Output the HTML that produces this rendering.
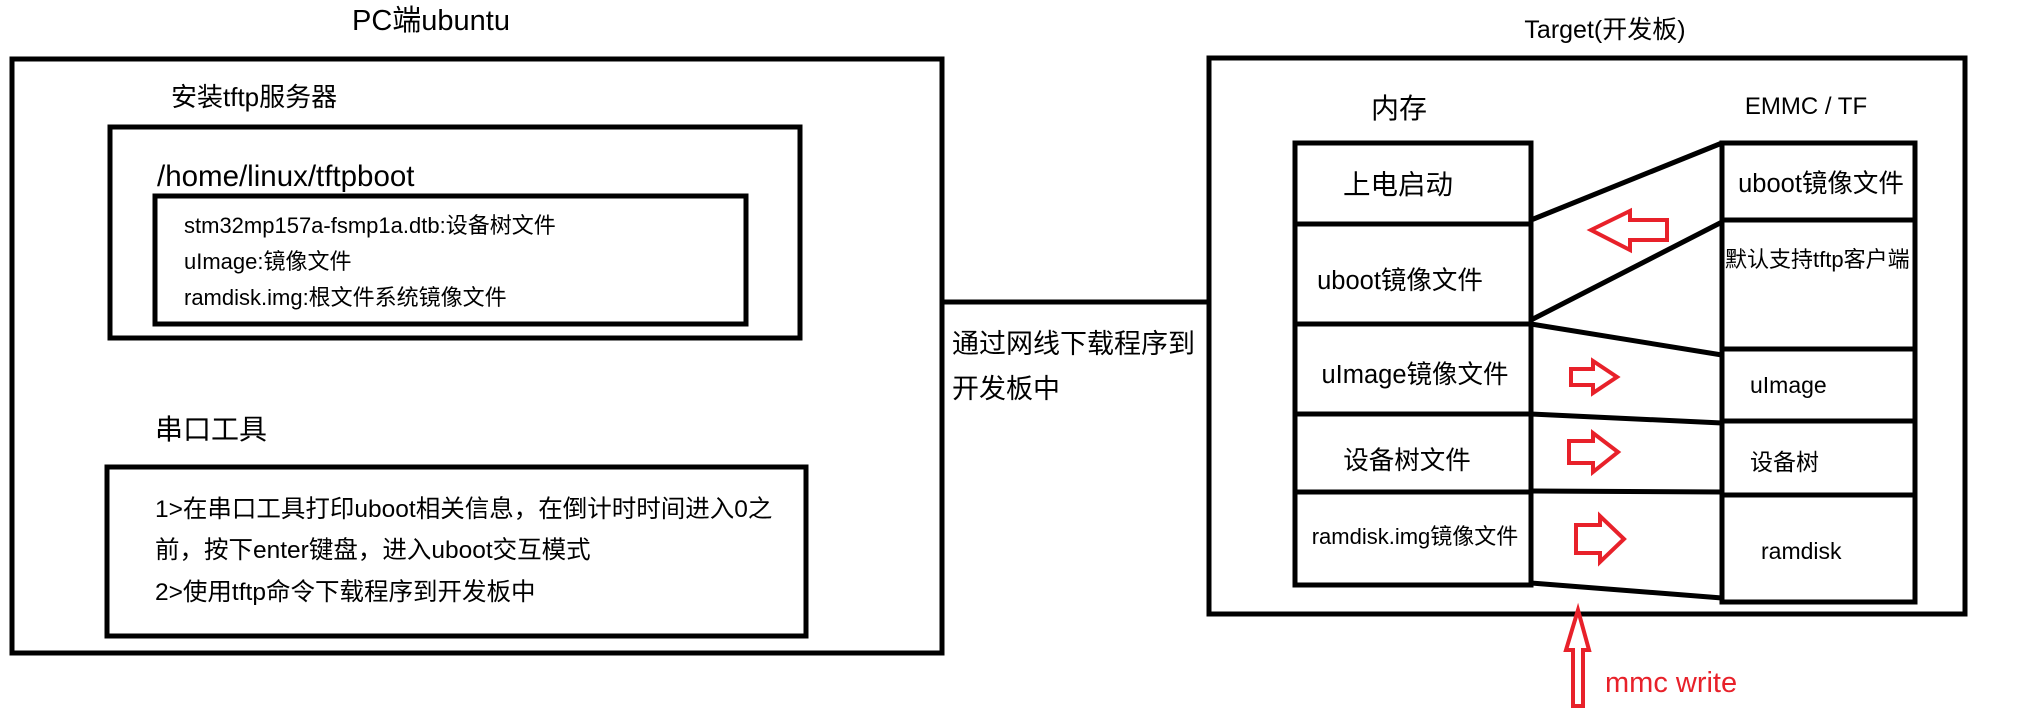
<!DOCTYPE html>
<html><head><meta charset="utf-8"><style>
html,body{margin:0;padding:0;background:#fff;}
svg{display:block;}
text{font-family:"Liberation Sans","Noto Sans CJK SC",sans-serif;fill:#000;}
</style></head><body>
<svg width="2033" height="708" viewBox="0 0 2033 708" xmlns="http://www.w3.org/2000/svg">
<g fill="none" stroke="#000" stroke-width="5">
<rect x="12" y="59" width="930" height="594"/>
<rect x="110" y="127" width="690" height="211"/>
<rect x="155" y="196" width="591" height="128"/>
<rect x="107" y="467" width="699" height="169"/>
<line x1="942" y1="302" x2="1209" y2="302"/>
<rect x="1209" y="58" width="756" height="556"/>
<rect x="1295" y="143" width="236" height="442"/>
<line x1="1295" y1="224" x2="1531" y2="224"/>
<line x1="1295" y1="324" x2="1531" y2="324"/>
<line x1="1295" y1="414" x2="1531" y2="414"/>
<line x1="1295" y1="492" x2="1531" y2="492"/>
<rect x="1722" y="143" width="193" height="459"/>
<line x1="1722" y1="220" x2="1915" y2="220"/>
<line x1="1722" y1="349" x2="1915" y2="349"/>
<line x1="1722" y1="421" x2="1915" y2="421"/>
<line x1="1722" y1="495" x2="1915" y2="495"/>
<line x1="1531" y1="220" x2="1722" y2="143"/>
<line x1="1531" y1="320" x2="1722" y2="222"/>
<line x1="1531" y1="324" x2="1722" y2="355"/>
<line x1="1531" y1="414" x2="1722" y2="423"/>
<line x1="1531" y1="491" x2="1722" y2="492"/>
<line x1="1531" y1="583" x2="1722" y2="598"/>
</g>
<g fill="none" stroke="#e8212a" stroke-width="4" stroke-linejoin="miter">
<polygon points="1591,230 1630,211 1630,220 1667,220 1667,240 1630,240 1630,250"/>
<polygon points="1571,369 1593,369 1593,361 1617,377 1593,393 1593,385 1571,385"/>
<polygon points="1569,441 1593,441 1593,433 1618,452 1593,472 1593,463 1569,463"/>
<polygon points="1576,525 1600,525 1600,516 1624,539 1600,562 1600,553 1576,553"/>
<polygon points="1578,610 1589,650 1583,650 1583,706 1573,706 1573,650 1566,650"/>
</g>
<text x="431" y="30" font-size="29" text-anchor="middle">PC端ubuntu</text>
<text x="171" y="106" font-size="26">安装tftp服务器</text>
<text x="157" y="186" font-size="29.5">/home/linux/tftpboot</text>
<g font-size="22">
<text x="184" y="233">stm32mp157a-fsmp1a.dtb:设备树文件</text>
<text x="184" y="269">uImage:镜像文件</text>
<text x="184" y="305">ramdisk.img:根文件系统镜像文件</text>
</g>
<text x="155" y="439" font-size="28">串口工具</text>
<g font-size="24.5">
<text x="155" y="517">1&gt;在串口工具打印uboot相关信息，在倒计时时间进入0之</text>
<text x="155" y="558">前，按下enter键盘，进入uboot交互模式</text>
<text x="155" y="600">2&gt;使用tftp命令下载程序到开发板中</text>
</g>
<g font-size="27">
<text x="952" y="353">通过网线下载程序到</text>
<text x="952" y="398">开发板中</text>
</g>
<text x="1605" y="38" font-size="25" text-anchor="middle">Target(开发板)</text>
<text x="1399" y="118" font-size="28" text-anchor="middle">内存</text>
<text x="1806" y="114" font-size="24" text-anchor="middle">EMMC / TF</text>
<g font-size="25.5" text-anchor="middle">
<text x="1398" y="194" font-size="27.5">上电启动</text>
<text x="1400" y="289">uboot镜像文件</text>
<text x="1415" y="383">uImage镜像文件</text>
<text x="1407" y="469">设备树文件</text>
<text x="1821" y="192">uboot镜像文件</text>
</g>
<text x="1415" y="544" font-size="22" text-anchor="middle">ramdisk.img镜像文件</text>
<text x="1725" y="267" font-size="22">默认支持tftp客户端</text>
<g font-size="23">
<text x="1750" y="393">uImage</text>
<text x="1750" y="470">设备树</text>
<text x="1761" y="559">ramdisk</text>
</g>
<text x="1605" y="692" font-size="29" style="fill:#e8212a">mmc write</text>
</svg>
</body></html>
